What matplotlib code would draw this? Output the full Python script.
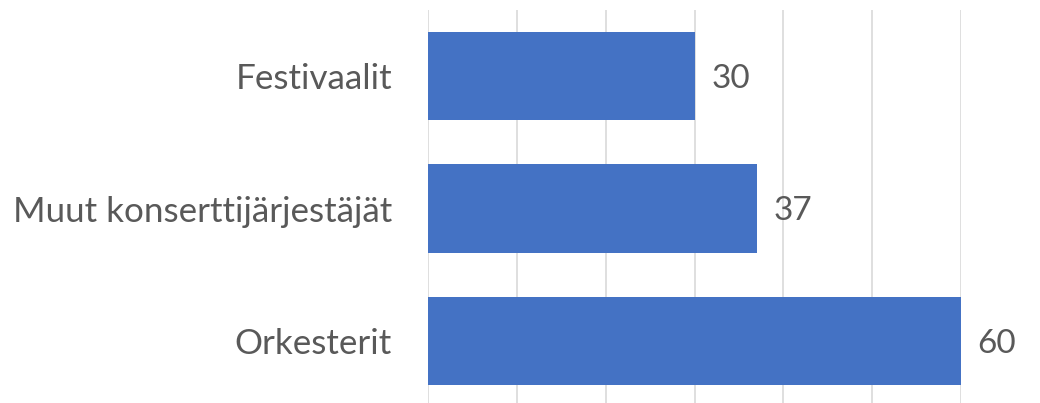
import matplotlib
matplotlib.use("Agg")
from matplotlib import pyplot as plt

categories = ["Orkesterit", "Muut konserttijärjestäjät", "Festivaalit"]
values = [60, 37, 30]

text_color = "#595959"
bar_color = "#4472C4"
grid_color = "#D9D9D9"

plt.rcParams["font.family"] = ["Lato", "DejaVu Sans"]

fig = plt.figure(figsize=(10.4, 4.03), dpi=100)
ax = fig.add_axes([428 / 1040, 1 - 407 / 403, (961 - 428) / 1040, 397 / 403])

ypos = range(len(categories))
ax.barh(ypos, values, height=0.665, color=bar_color, zorder=2)

ax.set_xlim(0, 60)
ax.set_ylim(-0.5, 2.5)
ax.set_xticks(range(0, 61, 10))
ax.set_xticklabels([])
ax.tick_params(axis="x", length=0)
ax.grid(axis="x", color=grid_color, linewidth=1.2, zorder=0)

ax.set_yticks(list(ypos))
ax.set_yticklabels(categories, fontsize=25.2, color=text_color)
ax.tick_params(axis="y", length=0, pad=26)

for s in ax.spines.values():
    s.set_visible(False)

for y, v in zip(ypos, values):
    ax.annotate(str(v), (v, y), xytext=(12, -2), textcoords="offset points",
                va="center", ha="left", fontsize=24, color=text_color)

fig.savefig("out.png", dpi=100)
